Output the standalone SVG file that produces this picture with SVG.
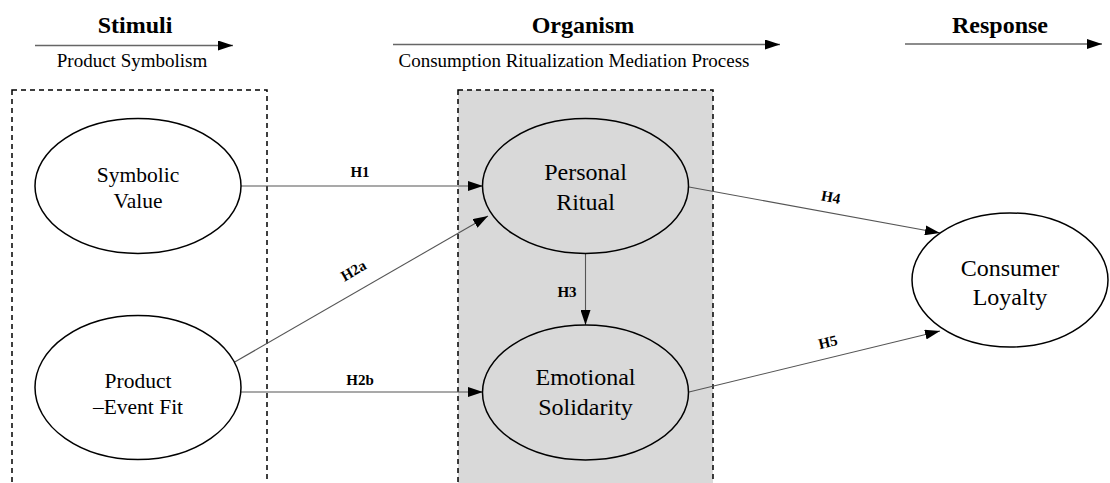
<svg xmlns="http://www.w3.org/2000/svg" width="1110" height="483" viewBox="0 0 1110 483">
<style>
text{font-family:'Liberation Serif','Times New Roman',Times,'DejaVu Serif',serif;fill:#000;text-anchor:middle}
.hdr{font-weight:bold;font-size:24px}
.sub{font-size:19px}
.nl{font-size:21.5px}
.nm{font-size:24px}
.lbl{font-weight:bold;font-size:15px}
.ell{stroke:#000;stroke-width:1.5}
.box{stroke:#000;stroke-width:1.5;stroke-dasharray:5,4}
.con{stroke:#555;stroke-width:1.1;fill:none;marker-end:url(#ah)}
.top{stroke:#666;stroke-width:1.3;fill:none;marker-end:url(#ah)}
</style>
<defs>
<marker id="ah" markerUnits="userSpaceOnUse" markerWidth="15" markerHeight="10" refX="15" refY="5" orient="auto">
<path d="M0,0 L15,5 L0,10 z" fill="#000"/>
</marker>
</defs>
<rect width="1110" height="483" fill="#fff"/>
<g id="headers">
<text class="hdr" x="135" y="33">Stimuli</text>
<line class="top" x1="35" y1="45.5" x2="233" y2="45.5"/>
<text class="sub" x="132" y="67">Product Symbolism</text>
<text class="hdr" x="583" y="33">Organism</text>
<line class="top" x1="393" y1="44.5" x2="780" y2="44.5"/>
<text class="sub" x="574" y="67">Consumption Ritualization Mediation Process</text>
<text class="hdr" x="1000" y="33">Response</text>
<line class="top" x1="905" y1="44" x2="1102" y2="44"/>
</g>
<g id="stimuli-box"><rect class="box" x="12" y="90" width="255" height="400" fill="none"/></g>
<g id="organism-box"><rect class="box" x="458" y="90" width="255" height="400" fill="#d9d9d9"/></g>
<g id="connectors">
<line class="con" x1="241" y1="186" x2="483" y2="186"/>
<text class="lbl" x="360" y="177">H1</text>
<line class="con" x1="233" y1="363" x2="488" y2="216"/>
<text class="lbl" transform="translate(356,275) rotate(-30)">H2a</text>
<line class="con" x1="241" y1="392" x2="483" y2="392"/>
<text class="lbl" x="360" y="385">H2b</text>
<line class="con" x1="585.5" y1="253" x2="585.5" y2="325"/>
<text class="lbl" x="567" y="297">H3</text>
<line class="con" x1="689" y1="187" x2="940" y2="233"/>
<text class="lbl" transform="translate(830,202) rotate(10.5)">H4</text>
<line class="con" x1="689" y1="392" x2="940" y2="331"/>
<text class="lbl" transform="translate(829,347) rotate(-13.5)">H5</text>
</g>
<g id="symbolic-value">
<ellipse class="ell" cx="138" cy="186" rx="103" ry="67.5" fill="#fff"/>
<text class="nl" x="138" y="182">Symbolic</text>
<text class="nl" x="138" y="208">Value</text>
</g>
<g id="product-event-fit">
<ellipse class="ell" cx="138" cy="387.5" rx="103" ry="72" fill="#fff"/>
<text class="nl" x="138" y="388">Product</text>
<text class="nl" x="138" y="414">–Event Fit</text>
</g>
<g id="personal-ritual">
<ellipse class="ell" cx="585.5" cy="186" rx="103" ry="67.5" fill="#d9d9d9"/>
<text class="nm" x="585.5" y="180">Personal</text>
<text class="nm" x="585.5" y="210">Ritual</text>
</g>
<g id="emotional-solidarity">
<ellipse class="ell" cx="585.5" cy="392.5" rx="103" ry="67.5" fill="#d9d9d9"/>
<text class="nm" x="585.5" y="385">Emotional</text>
<text class="nm" x="585.5" y="415">Solidarity</text>
</g>
<g id="consumer-loyalty">
<ellipse class="ell" cx="1010" cy="280" rx="98" ry="67" fill="#fff"/>
<text class="nm" x="1010" y="276">Consumer</text>
<text class="nm" x="1010" y="305">Loyalty</text>
</g>
</svg>
